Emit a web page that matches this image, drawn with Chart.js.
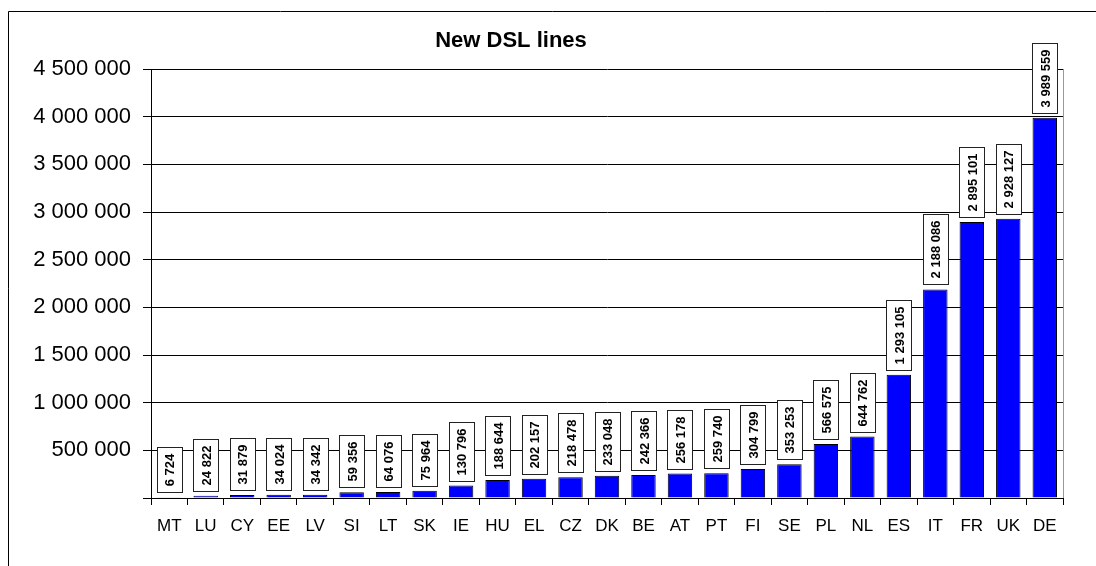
<!DOCTYPE html>
<html>
<head>
<meta charset="utf-8">
<script src="https://cdn.jsdelivr.net/npm/chart.js@4"></script>
<style>
  html, body { margin: 0; padding: 0; background: #fff; }
  canvas { display: block; }
</style>
</head>
<body>
<canvas id="dslChart" width="1096" height="566"></canvas>
<script>
// Data
const countries = ['MT', 'LU', 'CY', 'EE', 'LV', 'SI', 'LT', 'SK', 'IE', 'HU', 'EL', 'CZ', 'DK',
  'BE', 'AT', 'PT', 'FI', 'SE', 'PL', 'NL', 'ES', 'IT', 'FR', 'UK', 'DE'];
const newLines = [6724, 24822, 31879, 34024, 34342, 59356, 64076, 75964, 130796, 188644, 202157,
  218478, 233048, 242366, 256178, 259740, 304799, 353253, 566575, 644762, 1293105, 2188086,
  2895101, 2928127, 3989559];
const chartTitle = 'New DSL lines';
const yMax = 4500000;
const yStep = 500000;

const FONT = 'Arial, "Liberation Sans", sans-serif';

function spaced(n) {
  return String(n).replace(/\B(?=(\d{3})+(?!\d))/g, ' ');
}

// frame + title
const framePlugin = {
  id: 'frame',
  beforeDraw(chart) {
    const ctx = chart.ctx;
    ctx.save();
    ctx.fillStyle = '#fff';
    ctx.fillRect(0, 0, chart.width, chart.height);
    ctx.strokeStyle = '#000';
    ctx.lineWidth = 1;
    ctx.beginPath();
    ctx.moveTo(8.5, chart.height);
    ctx.lineTo(8.5, 11.5);
    ctx.lineTo(chart.width, 11.5);
    ctx.stroke();
    ctx.restore();
  },
  afterDraw(chart) {
    const ctx = chart.ctx;
    const area = chart.chartArea;
    ctx.save();
    // right edge of plot area
    ctx.strokeStyle = '#999';
    ctx.beginPath();
    ctx.moveTo(Math.round(area.right) + 0.5, area.top);
    ctx.lineTo(Math.round(area.right) + 0.5, area.bottom);
    ctx.stroke();
    ctx.fillStyle = '#000';
    ctx.font = 'bold 22px ' + FONT;
    ctx.textAlign = 'center';
    ctx.textBaseline = 'middle';
    ctx.fillText(chartTitle, 511, 41);
    ctx.restore();
  }
};

// boxed, rotated value labels above each bar
const valueBoxes = {
  id: 'valueBoxes',
  afterDatasetsDraw(chart) {
    const ctx = chart.ctx;
    const meta = chart.getDatasetMeta(0);
    ctx.save();
    ctx.font = 'bold 13px ' + FONT;
    meta.data.forEach((bar, i) => {
      const text = spaced(newLines[i]);
      const tw = ctx.measureText(text).width;
      const h = Math.round(tw + 12);
      const w = 25;
      const x = Math.round(bar.x - w / 2) + 0.5;
      const bottom = Math.round(bar.y) - 4.5;
      ctx.fillStyle = '#fff';
      ctx.fillRect(x, bottom - h, w, h);
      ctx.strokeStyle = '#222';
      ctx.lineWidth = 1;
      ctx.strokeRect(x, bottom - h, w, h);
      ctx.save();
      ctx.translate(bar.x + 0.5, bottom - h / 2);
      ctx.rotate(-Math.PI / 2);
      ctx.fillStyle = '#000';
      ctx.textAlign = 'center';
      ctx.textBaseline = 'middle';
      ctx.fillText(text, 0, 1);
      ctx.restore();
    });
    ctx.restore();
  }
};

new Chart(document.getElementById('dslChart'), {
  type: 'bar',
  data: {
    labels: countries,
    datasets: [{
      data: newLines,
      backgroundColor: '#0000ff',
      borderColor: '#000',
      borderWidth: 1,
      borderSkipped: 'bottom',
      categoryPercentage: 1,
      barPercentage: 0.67
    }]
  },
  options: {
    responsive: false,
    animation: false,
    events: [],
    layout: { padding: { left: 0, top: 69, right: 33, bottom: 0 } },
    plugins: {
      legend: { display: false },
      title: { display: false },
      tooltip: { enabled: false }
    },
    scales: {
      x: {
        afterFit: s => { s.height = 68; },
        grid: {
          offset: true,
          drawOnChartArea: false,
          drawTicks: true,
          tickLength: 7,
          color: '#000'
        },
        border: { color: '#000', width: 1 },
        ticks: {
          color: '#000',
          font: { family: FONT, size: 17 },
          padding: 11,
          maxRotation: 0,
          autoSkip: false
        }
      },
      y: {
        min: 0,
        max: yMax,
        afterFit: s => { s.width = 151; },
        grid: {
          color: '#000',
          drawTicks: true,
          tickLength: 8
        },
        border: { color: '#000', width: 1 },
        ticks: {
          stepSize: yStep,
          color: '#000',
          font: { family: FONT, size: 22 },
          padding: 12,
          callback: v => v === 0 ? '' : spaced(v)
        }
      }
    }
  },
  plugins: [framePlugin, valueBoxes]
});
</script>
</body>
</html>
